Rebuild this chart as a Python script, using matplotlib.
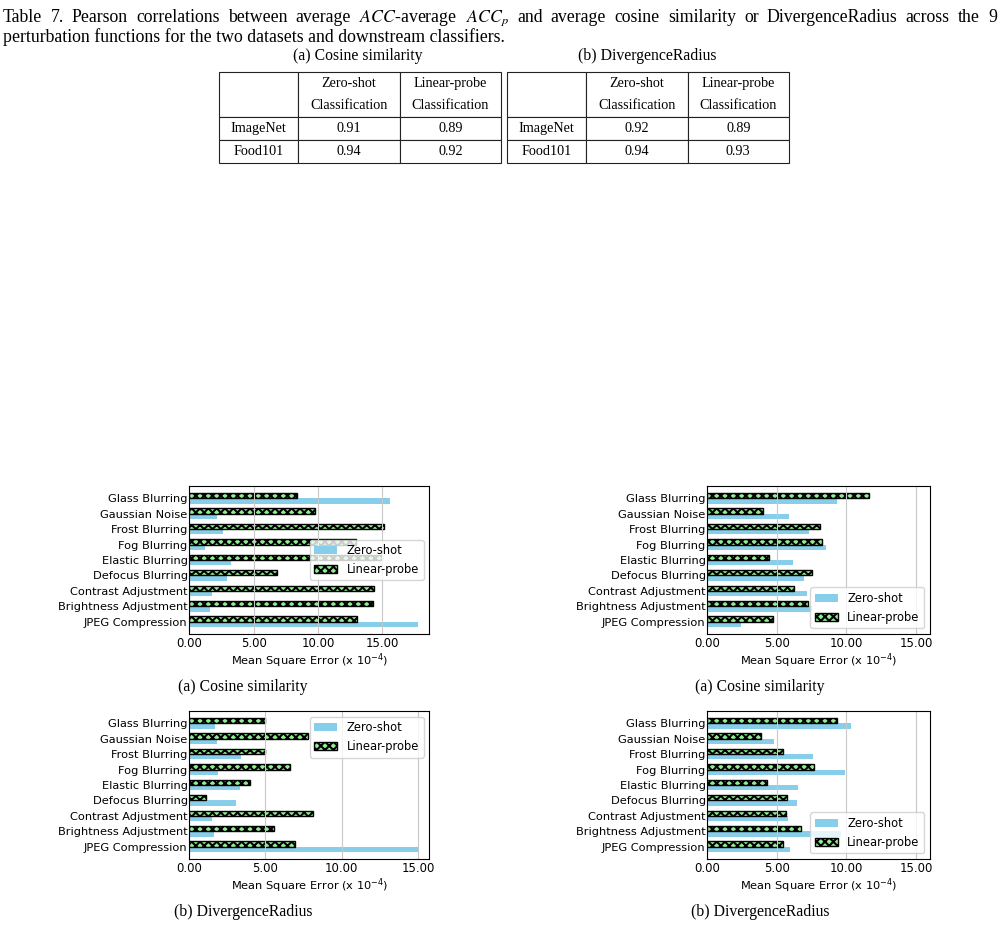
import numpy as np
import matplotlib
matplotlib.use('Agg')
import matplotlib.pyplot as plt
from matplotlib.ticker import FormatStrFormatter

# 扰动类别（自上而下）
categories = ['Glass Blurring', 'Gaussian Noise', 'Frost Blurring', 'Fog Blurring',
              'Elastic Blurring', 'Defocus Blurring', 'Contrast Adjustment',
              'Brightness Adjustment', 'JPEG Compression']

# 余弦相似度 - 左图
cos_left_zero = [15.6, 2.12, 2.62, 1.22, 3.21, 2.93, 1.76, 1.61, 17.75]
cos_left_linear = [8.37, 9.74, 15.13, 12.93, 14.95, 6.79, 14.33, 14.25, 13.06]
# 余弦相似度 - 右图
cos_right_zero = [9.34, 5.88, 7.32, 8.54, 6.17, 6.96, 7.18, 7.55, 2.40]
cos_right_linear = [11.62, 3.98, 8.11, 8.23, 4.42, 7.49, 6.22, 7.22, 4.75]
# DivergenceRadius - 左图
div_left_zero = [1.69, 1.82, 3.39, 1.88, 3.33, 3.07, 1.49, 1.62, 15.0]
div_left_linear = [4.97, 7.80, 4.97, 6.59, 3.96, 1.07, 8.10, 5.58, 6.92]
# DivergenceRadius - 右图
div_right_zero = [10.34, 4.80, 7.61, 9.91, 6.53, 6.46, 5.81, 9.60, 5.95]
div_right_linear = [9.31, 3.84, 5.42, 7.66, 4.27, 5.71, 5.64, 6.72, 5.42]

# 表格数据
table_cols = ['', 'Zero-shot\nClassification', 'Linear-probe\nClassification']
table_rows = ['ImageNet', 'Food101']
cos_corr = [['0.91', '0.89'], ['0.94', '0.92']]
div_corr = [['0.92', '0.89'], ['0.94', '0.93']]

caption_line1 = ('Table 7. Pearson correlations between average $ACC$-average $ACC_p$ '
                 'and average cosine similarity or DivergenceRadius across the 9')
caption_line2 = 'perturbation functions for the two datasets and downstream classifiers.'

SERIF = 'Liberation Serif'
W, H = 1003, 925
plt.rcParams['hatch.linewidth'] = 1.5


def fx(px):
    return px / W


def fy(py):
    return 1 - py / H


def justified_text(fig, line, x0, x1, y, **kw):
    """两端对齐地逐词放置文字"""
    renderer = fig.canvas.get_renderer()
    words = line.split(' ')
    texts = [fig.text(0, fy(y), w, **kw) for w in words]
    widths = [t.get_window_extent(renderer).width for t in texts]
    gap = (x1 - x0 - sum(widths)) / (len(words) - 1)
    x = x0
    for t, w in zip(texts, widths):
        t.set_x(fx(x))
        x += w + gap


def draw_table(fig, rect, values):
    """绘制相关系数表格"""
    ax = fig.add_axes(rect)
    ax.axis('off')
    cell_text = [table_cols[1:]] + values
    row_labels = [''] + table_rows
    full = [[r] + c for r, c in zip(row_labels, cell_text)]
    tab = ax.table(cellText=full, cellLoc='center', bbox=[0, 0, 1, 1],
                   colWidths=[0.281, 0.3595, 0.3595])
    tab.auto_set_font_size(False)
    heights = [45 / 91, 23 / 91, 23 / 91]
    for (r, c), cell in tab.get_celld().items():
        cell.set_height(heights[r])
        cell.set_linewidth(0.8)
        cell.set_edgecolor('#222222')
        t = cell.get_text()
        t.set_fontfamily(SERIF)
        t.set_fontsize(10.2)
        t.set_linespacing(1.85)
    return ax


def draw_bars(ax, zero, linear, legend_loc, xmax=None):
    """绘制水平条形图"""
    y = np.arange(len(categories))
    h = 0.35
    ax.barh(y + h / 2, zero, h, color='skyblue', label='Zero-shot')
    ax.barh(y - h / 2, linear, h, color='lightgreen', edgecolor='black',
            hatch='xxxx', linewidth=1, label='Linear-probe')
    ax.set_yticks(y)
    ax.set_yticklabels(categories, fontsize=8.2)
    ax.invert_yaxis()
    if xmax is not None:
        ax.set_xlim(0, xmax)
    ax.set_xticks([0, 5, 10, 15])
    ax.xaxis.set_major_formatter(FormatStrFormatter('%.2f'))
    ax.tick_params(axis='x', labelsize=8.4, length=0, pad=2.2)
    ax.tick_params(axis='y', length=0, pad=1.2)
    ax.set_xlabel('Mean Square Error (x $10^{-4}$)', fontsize=8.2, labelpad=1)
    ax.grid(axis='x', color='#c8c8c8', linewidth=0.8)
    ax.legend(loc=legend_loc, fontsize=8.3)


fig = plt.figure(figsize=(W / 100, H / 100), dpi=100)

# 标题
cap_kw = dict(family=SERIF, fontsize=12.8, va='baseline', math_fontfamily='stix')
justified_text(fig, caption_line1, 3, 997, 21.5, **cap_kw)
fig.text(fx(3), fy(41.5), caption_line2, **cap_kw)
fig.text(fx(358), fy(56), '(a) Cosine similarity', family=SERIF, fontsize=11.3,
         ha='center', va='center')
fig.text(fx(647), fy(56), '(b) DivergenceRadius', family=SERIF, fontsize=11.3,
         ha='center', va='center')

draw_table(fig, [fx(219), fy(163), fx(282), 91 / H], cos_corr)
draw_table(fig, [fx(507), fy(163), fx(282), 91 / H], div_corr)

# 四个条形图
ax1 = fig.add_axes([fx(189.3), fy(634), fx(240), 148 / H])
ax2 = fig.add_axes([fx(707.3), fy(634), fx(222.7), 148 / H])
ax3 = fig.add_axes([fx(189.3), fy(859), fx(240), 148 / H])
ax4 = fig.add_axes([fx(707.3), fy(859), fx(222.7), 148 / H])

draw_bars(ax1, cos_left_zero, cos_left_linear, 'center right')
draw_bars(ax2, cos_right_zero, cos_right_linear, 'lower right', xmax=16)
draw_bars(ax3, div_left_zero, div_left_linear, 'upper right')
draw_bars(ax4, div_right_zero, div_right_linear, 'lower right', xmax=16)

for x, y, s in [(243, 687, '(a) Cosine similarity'), (760, 687, '(a) Cosine similarity'),
                (243, 912, '(b) DivergenceRadius'), (760, 912, '(b) DivergenceRadius')]:
    fig.text(fx(x), fy(y), s, family=SERIF, fontsize=11.3, ha='center', va='center')

fig.savefig('out.png', dpi=100)
